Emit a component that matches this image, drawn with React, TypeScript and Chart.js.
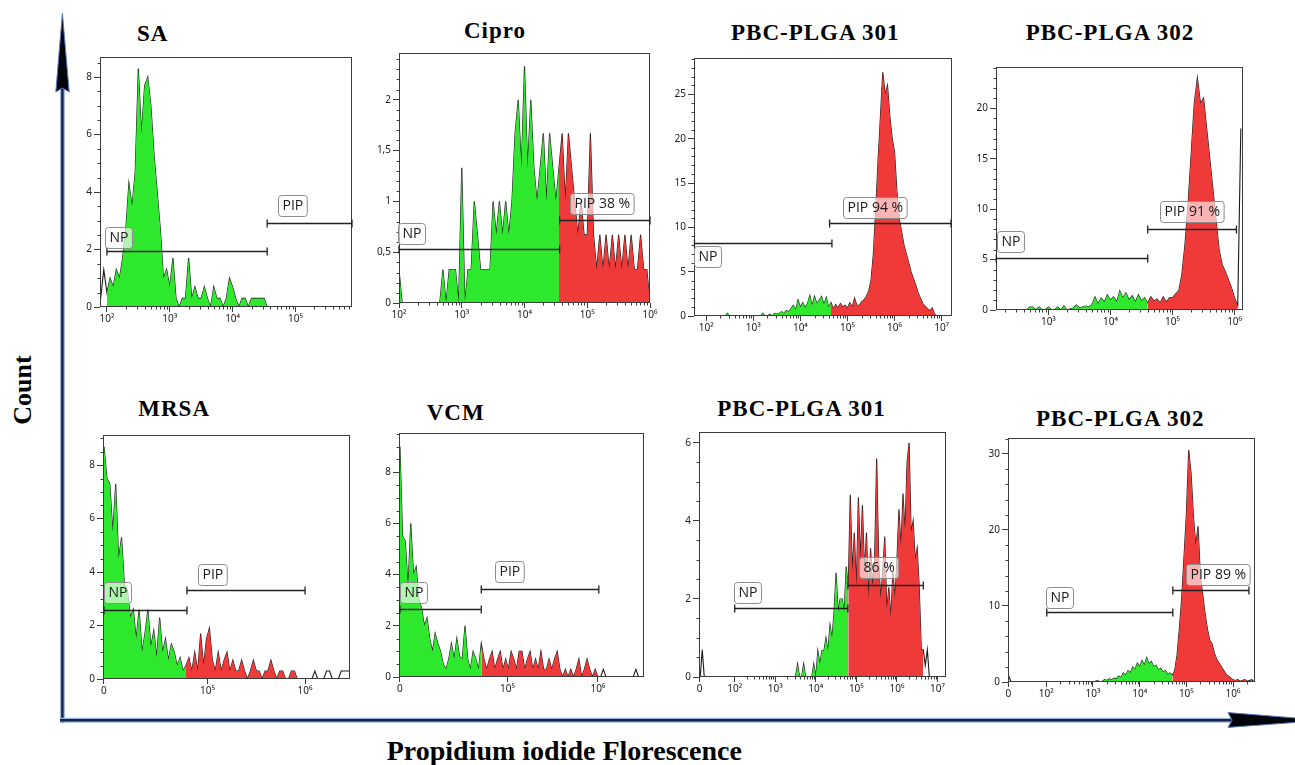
import React, { useEffect, useRef } from 'react';
import { Chart, registerables } from 'chart.js';
Chart.register(...registerables);

// ---------------- DATA (histogram counts per bin, x in log10 display units) ----------------
const SA_BIN_START = 1.9;
const SA_BIN_STEP = 0.05;
const SA_COUNTS = [
  0.3, 1.3, 0.5, 1.0, 0.7, 1.3, 1.0, 1.7, 2.7, 4.3, 3.5, 4.7, 8.3, 6.0, 7.7, 8.0, 7.0, 5.3, 4.0, 2.7,
  1.0, 1.3, 0.7, 1.7, 0.3, 0, 0.3, 0.3, 1.7, 0.3, 0.7, 0.3, 0.3, 0.7, 0.3, 0, 0.7, 0.3, 0.3, 0,
  0.3, 1.0, 0.7, 0.3, 0, 0.3, 0.3, 0, 0.3, 0.3, 0.3, 0.3, 0.3, 0, 0, 0, 0, 0, 0, 0,
  0, 0, 0, 0, 0, 0, 0, 0, 0, 0, 0, 0, 0, 0, 0, 0, 0, 0, 0, 0, 0,
];

const CIPRO_BIN_START = 2.0;
const CIPRO_BIN_STEP = 0.05;
const CIPRO_COUNTS = [
  0.33, 0, 0, 0, 0, 0, 0, 0, 0, 0, 0, 0, 0, 0, 0.33, 0, 0.33, 0.33, 0.33, 0,
  1.33, 0, 0.33, 0.33, 1.0, 0.67, 0.33, 0.33, 0.33, 0.33, 1.0, 0.67, 1.0, 0.67, 1.0, 0.67, 1.0, 1.67, 2.0, 1.33,
  2.33, 1.33, 2.0, 1.33, 1.0, 1.33, 1.67, 1.0, 1.67, 1.33, 1.0, 1.33, 1.67, 1.0, 1.67, 1.33, 1.0, 0.67, 1.0, 0.67,
  0.67, 1.67, 0.67, 0.33, 0.67, 0.33, 0.67, 0.33, 0.67, 0.33, 0.67, 0.33, 0.67, 0.33, 0.67, 0.33, 0.33, 0.67, 0.33, 0.33,
  0,
];

const TOP301_BIN_START = 1.75;
const TOP301_BIN_STEP = 0.05;
const TOP301_COUNTS = [
  0, 0, 0, 0, 0, 0, 0, 0, 0, 0, 0, 0, 0, 0, 0.3, 0, 0, 0, 0, 0,
  0, 0, 0, 0, 0, 0, 0, 0, 0, 0.3, 0, 0, 0.2, 0, 0.3, 0.2, 0.3, 0.5, 0.3, 0.6,
  0.5, 0.8, 1.2, 0.7, 1.8, 1.0, 1.5, 0.9, 1.4, 2.3, 1.2, 2.2, 1.4, 1.8, 2.2, 1.3, 2.1, 1.0, 1.5, 0.8,
  1.3, 0.9, 1.4, 1.0, 1.2, 0.9, 1.5, 1.0, 2.0, 1.2, 1.2, 1.6, 1.8, 2.2, 2.8, 4.0, 7.0, 12.0, 17.5, 22.5,
  27.5, 25.0, 26.0, 22.5, 20.0, 18.5, 14.0, 11.0, 9.5, 8.0, 7.0, 6.0, 5.0, 4.2, 3.5, 2.6, 2.0, 1.4, 1.1, 0.8,
  0.6, 0.9, 0.2, 0, 0, 0, 0, 0, 0, 0,
];

const TOP302_BIN_START = 2.15;
const TOP302_BIN_STEP = 0.05;
const TOP302_COUNTS = [
  0, 0, 0, 0, 0, 0, 0, 0, 0, 0, 0, 0.3, 0.3, 0, 0.3, 0, 0, 0.3, 0, 0,
  0.3, 0, 0.4, 0, 0.1, 0.2, 0.5, 0.2, 0.3, 0.4, 0.3, 0.5, 1.3, 0.6, 1.2, 0.8, 1.5, 1.0, 1.3, 0.8,
  1.9, 1.2, 1.7, 1.0, 1.4, 0.8, 1.5, 0.9, 1.2, 0.7, 1.3, 0.9, 1.1, 0.7, 1.3, 0.8, 1.2, 1.2, 1.6, 1.9,
  3.5, 6.5, 10.5, 15.5, 20.5, 23.0, 20.5, 21.0, 18.0, 15.0, 12.0, 9.0, 6.0, 4.5, 3.8, 3.0, 2.2, 1.2, 0.4, 18.0,
];

const MRSA_BIN_START = 3.94;
const MRSA_BIN_STEP = 0.03;
const MRSA_COUNTS = [
  8.7, 7.5, 7.3, 5.5, 7.3, 4.5, 5.3, 3.5, 3.3, 2.3, 2.6, 1.5, 2.6, 1.0, 1.7, 2.6, 1.2, 1.8, 0.8, 2.3,
  1.0, 1.5, 0.7, 1.3, 1.0, 0.5, 0.8, 0.3, 0.5, 0.8, 0.3, 1.0, 0.3, 1.7, 0.5, 1.5, 1.9, 0.7, 0.3, 1.0,
  0.3, 0.7, 1.0, 0.3, 0.7, 0.3, 0.3, 0.7, 0.3, 0, 0.3, 0.7, 0.3, 0.3, 0, 0.3, 0.3, 0.7, 0.3, 0,
  0.3, 0.3, 0, 0, 0.3, 0.3, 0, 0, 0, 0, 0, 0, 0.3, 0, 0, 0, 0.3, 0.3, 0, 0,
  0, 0.3, 0.3, 0.3, 0.3,
];

const VCM_BIN_START = 3.81;
const VCM_BIN_STEP = 0.03;
const VCM_COUNTS = [
  9.0, 5.5, 5.3, 3.5, 6.0, 4.0, 4.3, 3.0, 2.7, 2.0, 2.3, 1.5, 1.0, 1.7, 1.3, 1.0, 0.5, 0.3, 0.7, 1.3,
  0.7, 1.5, 0.8, 0.7, 2.0, 0.7, 0.3, 1.0, 0.7, 0.3, 1.3, 0.7, 0.3, 0.7, 1.0, 0.3, 0.7, 1.0, 0.3, 0.7,
  0.3, 1.0, 0.7, 0.3, 1.0, 1.0, 0.3, 0.7, 1.0, 0.3, 0.7, 0.3, 1.0, 0.3, 0.3, 0.7, 0.3, 0.7, 1.0, 0.3,
  0, 0.3, 0, 0.3, 0, 0.3, 0.7, 0, 0.3, 0.7, 0.3, 0, 0.3, 0, 0, 0.3, 0, 0, 0, 0,
  0, 0, 0, 0, 0, 0, 0, 0.3, 0, 0, 0,
];

const BOT301_BIN_START = 1.15;
const BOT301_BIN_STEP = 0.05;
const BOT301_COUNTS = [
  0, 0.7, 0, 0, 0, 0, 0, 0, 0, 0, 0, 0, 0, 0, 0, 0, 0, 0, 0, 0,
  0, 0, 0, 0, 0, 0, 0, 0, 0, 0, 0, 0, 0, 0, 0, 0, 0, 0, 0, 0,
  0, 0, 0, 0, 0, 0, 0, 0, 0.33, 0, 0, 0.33, 0, 0, 0, 0, 0.33, 0, 0.67, 0.33,
  0.67, 0.67, 1.0, 0.67, 1.33, 1.0, 1.67, 2.67, 1.67, 2.0, 2.0, 1.67, 2.83, 2.3, 4.67, 2.7, 3.7, 2.3, 4.6, 3.0,
  4.4, 2.7, 3.7, 2.0, 3.3, 2.3, 3.0, 5.6, 3.0, 2.0, 2.7, 3.6, 1.7, 2.3, 1.5, 2.7, 2.0, 3.0, 4.3, 3.3,
  4.7, 3.7, 5.5, 6.0, 3.7, 4.0, 3.0, 3.3, 2.3, 0.7, 0.7, 0.3, 0.7, 0, 0, 0, 0, 0, 0, 0,
  0, 0,
];

const BOT302_BIN_START = 1.15;
const BOT302_BIN_STEP = 0.05;
const BOT302_COUNTS = [
  0, 0.7, 0, 0, 0, 0, 0, 0, 0, 0, 0, 0, 0, 0, 0, 0, 0, 0, 0, 0,
  0, 0, 0, 0, 0, 0, 0, 0, 0, 0, 0, 0, 0, 0, 0, 0, 0, 0, 0.1, 0.2,
  0, 0.1, 0.3, 0.2, 0.4, 0.3, 0.5, 0.4, 0.8, 0.6, 1.2, 0.9, 1.5, 1.2, 2.0, 1.6, 2.5, 2.0, 2.8, 2.2,
  3.2, 2.4, 2.7, 2.0, 2.2, 1.6, 1.8, 1.3, 1.5, 1.0, 1.2, 0.9, 1.5, 3.5, 7.0, 11.0, 16.5, 22.0, 30.5, 27.5,
  22.0, 18.0, 20.5, 14.0, 11.5, 9.0, 7.0, 5.5, 5.0, 3.8, 3.0, 2.5, 2.0, 1.5, 1.0, 0.8, 0.5, 0.3, 0.2, 0.3,
  0.1, 0.2, 0.3, 0.1, 0.2, 0.3, 0,
];

// tick values (log10 display units) and their labels
const LOG_TICKS_2_5 = [2, 3, 4, 5];
const LOG_LABELS_2_5 = ['10²', '10³', '10⁴', '10⁵'];
const LOG_TICKS_2_6 = [2, 3, 4, 5, 6];
const LOG_LABELS_2_6 = ['10²', '10³', '10⁴', '10⁵', '10⁶'];
const LOG_TICKS_2_7 = [2, 3, 4, 5, 6, 7];
const LOG_LABELS_2_7 = ['10²', '10³', '10⁴', '10⁵', '10⁶', '10⁷'];
const LOG_TICKS_3_6 = [3, 4, 5, 6];
const LOG_LABELS_3_6 = ['10³', '10⁴', '10⁵', '10⁶'];
const MRSA_TICKS = [3.94, 5, 6];
const VCM_TICKS = [3.81, 5, 6];
const ZERO_5_6_LABELS = ['0', '10⁵', '10⁶'];
const BOT301_TICKS = [1.136, 2, 3, 4, 5, 6, 7];
const BOT301_LABELS = ['0', '10²', '10³', '10⁴', '10⁵', '10⁶', '10⁷'];
const BOT302_TICKS = [1.19, 2, 3, 4, 5, 6];
const BOT302_LABELS = ['0', '10²', '10³', '10⁴', '10⁵', '10⁶'];

// ---------------- LAYOUT / STYLE ----------------
const PAD_L = 45, PAD_T = 12, PAD_R = 18, PAD_B = 26;
const GREEN = 'rgb(46,232,46)';
const RED = 'rgb(240,58,58)';
const OUTLINE = 'rgba(0,0,0,0.9)';
const FRAME = '#3c3c3c';
const TICK_COLOR = '#222';
const TICK_FONT = { family: '"Noto Sans", "DejaVu Sans", sans-serif', size: 10 };
const GATE_FONT = '14px "Open Sans", "Noto Sans", sans-serif';

interface Gate { from: number; to: number; y: number; label: string; lx: number; ly: number; }
interface Panel {
  title: string; titleLeft: number; titleTop: number;
  box: number[];
  xMin: number; xMax: number; yMax: number; yStep: number; yMinorDiv: number; comma?: boolean;
  xTicks: number[]; xLabels: string[]; xMinor: boolean;
  binStart: number; binStep: number; counts: number[];
  np: Gate; pip: Gate;
}

const PANELS: Panel[] = [
  {
    title: 'SA', titleLeft: 137, titleTop: 22.4, box: [100, 57, 352, 307],
    xMin: 1.89, xMax: 5.9, yMax: 8.7, yStep: 2, yMinorDiv: 4,
    xTicks: LOG_TICKS_2_5, xLabels: LOG_LABELS_2_5, xMinor: true,
    binStart: SA_BIN_START, binStep: SA_BIN_STEP, counts: SA_COUNTS,
    np: { from: 2.0, to: 4.55, y: 1.96, label: 'NP', lx: 1.97, ly: 2.06 },
    pip: { from: 4.55, to: 5.9, y: 2.94, label: 'PIP', lx: 4.72, ly: 3.15 },
  },
  {
    title: 'Cipro', titleLeft: 464, titleTop: 19, box: [399, 53, 650, 303],
    xMin: 2, xMax: 6, yMax: 2.46, yStep: 0.5, yMinorDiv: 5, comma: true,
    xTicks: LOG_TICKS_2_6, xLabels: LOG_LABELS_2_6, xMinor: true,
    binStart: CIPRO_BIN_START, binStep: CIPRO_BIN_STEP, counts: CIPRO_COUNTS,
    np: { from: 2.0, to: 4.56, y: 0.53, label: 'NP', lx: 1.99, ly: 0.58 },
    pip: { from: 4.56, to: 6.0, y: 0.82, label: 'PIP 38 %', lx: 4.72, ly: 0.876 },
  },
  {
    title: 'PBC-PLGA 301', titleLeft: 731, titleTop: 21.4, box: [694, 58, 952, 316],
    xMin: 1.74, xMax: 7.22, yMax: 29.1, yStep: 5, yMinorDiv: 5,
    xTicks: LOG_TICKS_2_7, xLabels: LOG_LABELS_2_7, xMinor: true,
    binStart: TOP301_BIN_START, binStep: TOP301_BIN_STEP, counts: TOP301_COUNTS,
    np: { from: 1.75, to: 4.67, y: 8.18, label: 'NP', lx: 1.75, ly: 5.54 },
    pip: { from: 4.62, to: 7.2, y: 10.48, label: 'PIP 94 %', lx: 4.9, ly: 11.09 },
  },
  {
    title: 'PBC-PLGA 302', titleLeft: 1025.7, titleTop: 21.4, box: [996, 67, 1243, 310],
    xMin: 2.156, xMax: 6.135, yMax: 24.1, yStep: 5, yMinorDiv: 5,
    xTicks: LOG_TICKS_3_6, xLabels: LOG_LABELS_3_6, xMinor: true,
    binStart: TOP302_BIN_START, binStep: TOP302_BIN_STEP, counts: TOP302_COUNTS,
    np: { from: 2.16, to: 4.6, y: 5.17, label: 'NP', lx: 2.17, ly: 5.73 },
    pip: { from: 4.6, to: 6.03, y: 8.0, label: 'PIP 91 %', lx: 4.79, ly: 8.72 },
  },
  {
    title: 'MRSA', titleLeft: 138.3, titleTop: 397.4, box: [103, 435, 350, 679],
    xMin: 3.93, xMax: 6.46, yMax: 9.13, yStep: 2, yMinorDiv: 4,
    xTicks: MRSA_TICKS, xLabels: ZERO_5_6_LABELS, xMinor: false,
    binStart: MRSA_BIN_START, binStep: MRSA_BIN_STEP, counts: MRSA_COUNTS,
    np: { from: 3.94, to: 4.79, y: 2.58, label: 'NP', lx: 3.94, ly: 2.83 },
    pip: { from: 4.79, to: 6.0, y: 3.33, label: 'PIP', lx: 4.9, ly: 3.51 },
  },
  {
    title: 'VCM', titleLeft: 426.7, titleTop: 400.7, box: [399, 433, 644, 677],
    xMin: 3.8, xMax: 6.51, yMax: 9.53, yStep: 2, yMinorDiv: 4,
    xTicks: VCM_TICKS, xLabels: ZERO_5_6_LABELS, xMinor: false,
    binStart: VCM_BIN_START, binStep: VCM_BIN_STEP, counts: VCM_COUNTS,
    np: { from: 3.81, to: 4.71, y: 2.67, label: 'NP', lx: 3.81, ly: 2.9 },
    pip: { from: 4.71, to: 6.01, y: 3.45, label: 'PIP', lx: 4.86, ly: 3.72 },
  },
  {
    title: 'PBC-PLGA 301', titleLeft: 717.3, titleTop: 397.4, box: [699, 432, 946, 677],
    xMin: 1.12, xMax: 7.21, yMax: 6.28, yStep: 2, yMinorDiv: 4,
    xTicks: BOT301_TICKS, xLabels: BOT301_LABELS, xMinor: true,
    binStart: BOT301_BIN_START, binStep: BOT301_BIN_STEP, counts: BOT301_COUNTS,
    np: { from: 2.0, to: 4.79, y: 1.76, label: 'NP', lx: 1.98, ly: 1.9 },
    pip: { from: 4.79, to: 6.65, y: 2.36, label: '86 %', lx: 5.06, ly: 2.55 },
  },
  {
    title: 'PBC-PLGA 302', titleLeft: 1036, titleTop: 406.7, box: [1008, 438, 1255, 682],
    xMin: 1.18, xMax: 6.47, yMax: 32.1, yStep: 10, yMinorDiv: 5,
    xTicks: BOT302_TICKS, xLabels: BOT302_LABELS, xMinor: true,
    binStart: BOT302_BIN_START, binStep: BOT302_BIN_STEP, counts: BOT302_COUNTS,
    np: { from: 2.01, to: 4.71, y: 9.16, label: 'NP', lx: 2.0, ly: 9.78 },
    pip: { from: 4.71, to: 6.34, y: 12.1, label: 'PIP 89 %', lx: 4.99, ly: 12.8 },
  },
];

function makeOverlay(p: Panel) {
  return {
    id: 'overlay',
    afterDatasetsDraw(chart: any) {
      const { ctx, chartArea: a } = chart;
      const xs = chart.scales.x, ys = chart.scales.y;
      ctx.save();
      // frame
      ctx.strokeStyle = FRAME;
      ctx.lineWidth = 1;
      const l = Math.round(a.left) + 0.5, t = Math.round(a.top) + 0.5;
      const r = Math.round(a.right) - 0.5, b = Math.round(a.bottom) - 0.5;
      ctx.strokeRect(l, t, r - l, b - t);
      // minor ticks
      ctx.beginPath();
      const ym = p.yStep / p.yMinorDiv;
      for (let k = 1; k * ym < p.yMax; k++) {
        if (k % p.yMinorDiv === 0) continue;
        const py = Math.round(ys.getPixelForValue(k * ym)) + 0.5;
        ctx.moveTo(l - 3, py); ctx.lineTo(l, py);
      }
      if (p.xMinor) {
        for (let n = 2; n < 8; n++) {
          for (let k = 2; k < 10; k++) {
            const v = n + Math.log10(k);
            if (v < p.xMin || v > p.xMax) continue;
            const px = Math.round(xs.getPixelForValue(v)) + 0.5;
            ctx.moveTo(px, b); ctx.lineTo(px, b + 3);
          }
        }
      }
      ctx.stroke();
      // gates
      ctx.font = GATE_FONT;
      for (const g of [p.np, p.pip]) {
        const x1 = xs.getPixelForValue(g.from), x2 = xs.getPixelForValue(g.to);
        const yy = Math.round(ys.getPixelForValue(g.y)) + 0.5;
        ctx.strokeStyle = '#222';
        ctx.lineWidth = 1.3;
        ctx.beginPath();
        ctx.moveTo(x1, yy); ctx.lineTo(x2, yy);
        ctx.moveTo(x1, yy - 4); ctx.lineTo(x1, yy + 4);
        ctx.moveTo(x2, yy - 4); ctx.lineTo(x2, yy + 4);
        ctx.stroke();
        const w = ctx.measureText(g.label).width + 8;
        const h = 21;
        const bx = Math.round(xs.getPixelForValue(g.lx)) + 0.5;
        const by = Math.round(ys.getPixelForValue(g.ly)) + 0.5;
        ctx.beginPath();
        (ctx as any).roundRect(bx, by - h, w, h, 3);
        ctx.fillStyle = 'rgba(255,255,255,0.62)';
        ctx.fill();
        ctx.strokeStyle = '#8c8c8c';
        ctx.lineWidth = 1;
        ctx.stroke();
        ctx.fillStyle = '#1a1a1a';
        ctx.textBaseline = 'middle';
        ctx.textAlign = 'left';
        ctx.fillText(g.label, bx + 4, by - h / 2 + 0.5);
      }
      ctx.restore();
    },
  };
}

function PanelChart({ p }: { p: Panel }) {
  const ref = useRef<HTMLCanvasElement>(null);
  const L = Math.round(p.box[0]), T = Math.round(p.box[1]);
  const R = Math.round(p.box[2]), B = Math.round(p.box[3]);
  const W = R - L + PAD_L + PAD_R, H = B - T + PAD_T + PAD_B;
  useEffect(() => {
    if (!ref.current) return;
    const pts = p.counts.map((c, i) => ({ x: +(p.binStart + i * p.binStep).toFixed(4), y: c }));
    const half = p.binStep / 2 + 1e-6;
    const inGate = (g: Gate) => pts.filter((q) => q.x >= g.from - half && q.x <= g.to + half);
    const chart = new Chart(ref.current, {
      type: 'line',
      data: {
        datasets: [
          { data: inGate(p.np), fill: 'origin', backgroundColor: GREEN, borderColor: 'rgba(0,0,0,0)', borderWidth: 0.01, pointRadius: 0, tension: 0 },
          { data: inGate(p.pip), fill: 'origin', backgroundColor: RED, borderColor: 'rgba(0,0,0,0)', borderWidth: 0.01, pointRadius: 0, tension: 0 },
          { data: pts, fill: false, borderColor: OUTLINE, borderWidth: 1.1, pointRadius: 0, tension: 0 },
        ],
      },
      options: {
        responsive: false,
        animation: false,
        events: [],
        layout: { padding: { left: 0, top: PAD_T, right: PAD_R, bottom: 0 } },
        plugins: { legend: { display: false }, tooltip: { enabled: false }, title: { display: false } },
        scales: {
          x: {
            type: 'linear', min: p.xMin, max: p.xMax,
            afterBuildTicks: (s: any) => { s.ticks = p.xTicks.map((v) => ({ value: v })); },
            afterFit: (s: any) => { s.height = PAD_B; },
            ticks: {
              autoSkip: false, maxRotation: 0, minRotation: 0, padding: 1,
              font: TICK_FONT, color: TICK_COLOR,
              callback: (_v: any, i: number) => p.xLabels[i],
            },
            grid: { display: true, drawOnChartArea: false, drawTicks: true, tickLength: 5, color: FRAME },
            border: { display: false },
          },
          y: {
            type: 'linear', min: 0, max: p.yMax,
            afterFit: (s: any) => { s.width = PAD_L; },
            ticks: {
              stepSize: p.yStep, includeBounds: false, padding: 2,
              font: TICK_FONT, color: TICK_COLOR,
              callback: (v: any) => (p.comma ? String(v).replace('.', ',') : String(v)),
            },
            grid: { display: true, drawOnChartArea: false, drawTicks: true, tickLength: 6, color: FRAME },
            border: { display: false },
          },
        },
      } as any,
      plugins: [makeOverlay(p)],
    });
    return () => chart.destroy();
  }, []);
  return (
    <canvas
      ref={ref}
      width={W}
      height={H}
      style={{ position: 'absolute', left: L - PAD_L, top: T - PAD_T, width: W, height: H }}
    />
  );
}

const SERIF = '"Liberation Serif", "Times New Roman", serif';

export default function App() {
  return (
    <div style={{ position: 'absolute', left: 0, top: 0, width: 1295, height: 765, background: '#fff', overflow: 'hidden' }}>
      <svg width={1295} height={765} style={{ position: 'absolute', left: 0, top: 0 }}>
        <line x1={62.4} y1={86} x2={62.4} y2={723} stroke="#9db6de" strokeWidth={5} />
        <line x1={62.4} y1={86} x2={62.4} y2={723} stroke="#16214a" strokeWidth={2.4} />
        <line x1={60} y1={720.3} x2={1234} y2={720.3} stroke="#9db6de" strokeWidth={5} />
        <line x1={60} y1={720.3} x2={1234} y2={720.3} stroke="#16214a" strokeWidth={2.4} />
        <polygon points="62.4,13 55.8,92 62.4,88 69.2,92" fill="#03040c" stroke="#5a7dc0" strokeWidth={1} />
        <polygon points="1228,712.6 1325,720.3 1228,727.4 1232,720.3" fill="#03040c" stroke="#5a7dc0" strokeWidth={1} />
      </svg>
      {PANELS.map((p, i) => (
        <div
          key={'t' + i}
          style={{
            position: 'absolute', left: p.titleLeft, top: p.titleTop, fontFamily: SERIF, fontWeight: 'bold',
            fontSize: 23, letterSpacing: 1, lineHeight: '23px', whiteSpace: 'nowrap', color: '#000',
          }}
        >
          {p.title}
        </div>
      ))}
      {PANELS.map((p, i) => (
        <PanelChart key={'c' + i} p={p} />
      ))}
      <div
        style={{
          position: 'absolute', left: 22.5 - 60, top: 390 - 15, width: 120, height: 30, lineHeight: '30px',
          textAlign: 'center', transform: 'rotate(-90deg)', fontFamily: SERIF, fontWeight: 'bold', fontSize: 26, color: '#000',
        }}
      >
        Count
      </div>
      <div
        style={{
          position: 'absolute', left: 386.7, top: 737.3, lineHeight: '28px', whiteSpace: 'nowrap',
          fontFamily: SERIF, fontWeight: 'bold', fontSize: 28, color: '#000',
        }}
      >
        Propidium iodide Florescence
      </div>
    </div>
  );
}
